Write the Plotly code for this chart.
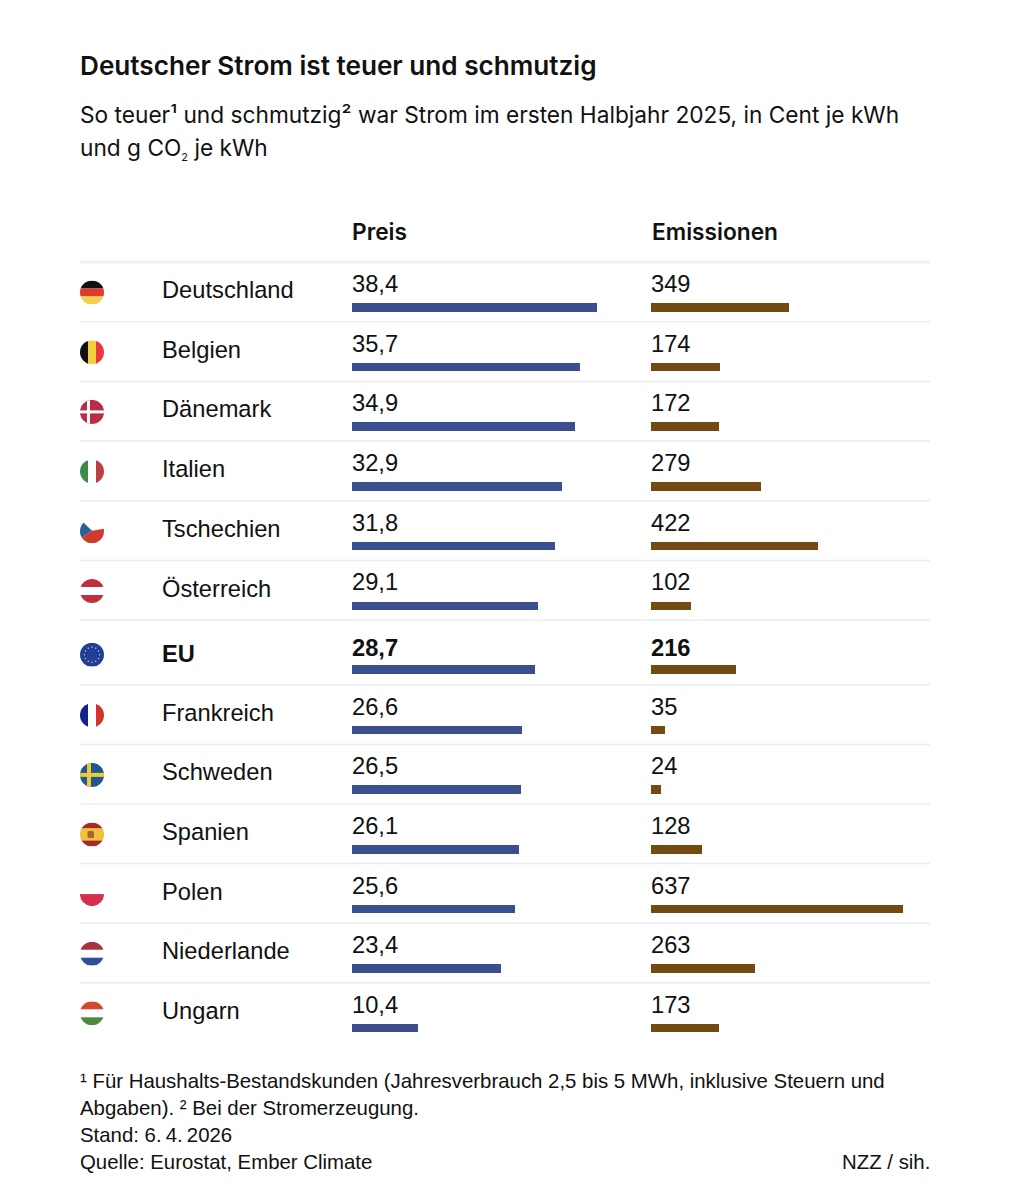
# -*- coding: utf-8 -*-
import base64
import plotly.graph_objects as go

countries = ['Deutschland', 'Belgien', 'Dänemark', 'Italien', 'Tschechien', 'Österreich', 'EU',
             'Frankreich', 'Schweden', 'Spanien', 'Polen', 'Niederlande', 'Ungarn']
preis = [38.4, 35.7, 34.9, 32.9, 31.8, 29.1, 28.7, 26.6, 26.5, 26.1, 25.6, 23.4, 10.4]
emissionen = [349, 174, 172, 279, 422, 102, 216, 35, 24, 128, 637, 263, 173]

title = 'Deutscher Strom ist teuer und schmutzig'
subtitle = ['So teuer¹ und schmutzig² war Strom im ersten Halbjahr 2025, in Cent je kWh',
            'und g CO<sub><span style="font-size:11px">2</span></sub> je kWh']
footer = ['¹ Für Haushalts-Bestandskunden (Jahresverbrauch 2,5 bis 5 MWh, inklusive Steuern und',
          'Abgaben). ² Bei der Stromerzeugung.',
          'Stand: 6.\u20094.\u20092026',
          'Quelle: Eurostat, Ember Climate']
credit = 'NZZ / sih.'

W, H = 1010, 1200
BLUE = '#3b4f8e'
BROWN = '#734a12'
RULE = '#ececec'
INK = '#111111'
SANS = 'Liberation Sans'
HEAD = 'Inter'


def bands(*rows):
    # horizontal stripes, y and height in a 48 box
    return ''.join('<rect x="0" y="%s" width="48" height="%s" fill="%s"/>' % r for r in rows)


def vbands(*cols):
    return ''.join('<rect x="%s" y="0" width="%s" height="48" fill="%s"/>' % c for c in cols)


eu_stars = ''.join('<circle cx="%.1f" cy="%.1f" r="1.4" fill="#e8d24a"/>' % (x, y) for x, y in [
    (24, 9), (31.5, 11), (37, 16.5), (39, 24), (37, 31.5), (31.5, 37),
    (24, 39), (16.5, 37), (11, 31.5), (9, 24), (11, 16.5), (16.5, 11)])

flags = {
    'Deutschland': bands((0, 16, '#111111'), (16, 16, '#dd3b2c'), (32, 16, '#f6cf4c')),
    'Belgien': vbands((0, 16, '#111111'), (16, 16, '#f2d03f'), (32, 16, '#e63a3f')),
    'Dänemark': bands((0, 48, '#b92e46')) + '<rect x="14" width="6" height="48" fill="#fff"/><rect y="21" width="48" height="6" fill="#fff"/>',
    'Italien': vbands((0, 16, '#3d8b4a'), (32, 16, '#bd3f44')),
    'Tschechien': '<path d="M24 23 L48 19 L48 48 L0 48 L0 39 Z" fill="#cf3a2c"/><path d="M0 0 L24 23 L0 39 Z" fill="#2e5f99"/>',
    'Österreich': bands((0, 16, '#c0303f'), (32, 16, '#c0303f')),
    'EU': bands((0, 48, '#1f3f9a')) + eu_stars,
    'Frankreich': vbands((0, 16, '#14238a'), (32, 16, '#d3342c')),
    'Schweden': bands((0, 48, '#22568f')) + '<rect x="14" width="8" height="48" fill="#f0c93a"/><rect y="20" width="48" height="8" fill="#f0c93a"/>',
    'Spanien': bands((0, 12, '#aa2a22'), (12, 24, '#f0c23a'), (36, 12, '#aa2a22')) + '<rect x="15" y="17" width="13" height="14" rx="3" fill="#a5652f"/>',
    'Polen': bands((24, 24, '#d5304a')),
    'Niederlande': bands((0, 16, '#a8323f'), (32, 16, '#2f4f96')),
    'Ungarn': bands((0, 16, '#cf4a31'), (32, 16, '#4d8a3c')),
}


def flag_uri(body):
    svg = ('<svg xmlns="http://www.w3.org/2000/svg" viewBox="0 0 48 48" width="96" height="96">'
           '<defs><clipPath id="c"><circle cx="24" cy="24" r="24"/></clipPath></defs>'
           '<g clip-path="url(#c)">' + body + '</g></svg>')
    return 'data:image/svg+xml;base64,' + base64.b64encode(svg.encode('utf8')).decode('ascii')


def de(v):
    return str(v).replace('.', ',')


# page layout, the y axis runs in page pixels
row_tops = []
top = 262.0
seen_eu = False
for name in countries:
    row_tops.append(top)
    if name == 'EU':
        top += 64.6
        seen_eu = True
    else:
        top += 59.6 if seen_eu else 59.7
extra = [4 if c == 'EU' else 0 for c in countries]
bar_y = [t + 45.3 + e for t, e in zip(row_tops, extra)]

fig = go.Figure()
fig.add_trace(go.Bar(x=preis, y=bar_y, orientation='h', width=8.6, marker=dict(color=BLUE, line_width=0),
                     xaxis='x', yaxis='y', showlegend=False, hoverinfo='x'))
fig.add_trace(go.Bar(x=emissionen, y=bar_y, orientation='h', width=8.6, marker=dict(color=BROWN, line_width=0),
                     xaxis='x2', yaxis='y', showlegend=False, hoverinfo='x'))

notes = []


def note(px, py, text, size, family=SANS, weight=None, anchor='left', color=INK):
    notes.append(dict(x=px / W, y=py, xref='paper', yref='y', text=text, showarrow=False,
                      xanchor=anchor, yanchor='middle', align=anchor, borderpad=0,
                      xshift=-1 if anchor == 'left' else 1,
                      font=dict(family=family, size=size, color=color, weight=weight)))


note(80, 65, title, 26.15, HEAD, 600)
note(80, 114, subtitle[0], 22.7, HEAD, 400)
note(80, 149, subtitle[1], 22.7, HEAD, 400)
note(352, 231, 'Preis', 22.7, HEAD, 600)
note(652, 231, 'Emissionen', 22.7, HEAD, 600)

images = []
shapes = [dict(type='line', xref='paper', yref='y', x0=80 / W, x1=930 / W, y0=262, y1=262,
               line=dict(color='#f0f0f0', width=3))]
for i, name in enumerate(countries):
    t, e = row_tops[i], extra[i]
    bold = 700 if name == 'EU' else None
    note(162, t + 28 + e + (2 if e else 0), name, 23.7, SANS, bold)
    note(352, t + 21.9 + e + (2 if e else 0), de(preis[i]), 23.7, SANS, bold)
    note(651, t + 21.9 + e + (2 if e else 0), de(emissionen[i]), 23.7, SANS, bold)
    images.append(dict(source=flag_uri(flags[name]), xref='paper', yref='y', x=80 / W, y=t + 30.5 + e - 12,
                       sizex=24 / W, sizey=24, xanchor='left', yanchor='top', sizing='stretch', layer='above'))
    if i > 0:
        shapes.append(dict(type='line', xref='paper', yref='y', x0=80 / W, x1=930 / W, y0=t, y1=t,
                           line=dict(color=RULE, width=1.5)))

for py, line in zip([1081, 1108, 1135, 1162], footer):
    note(80, py, line, 20.4)
note(930, 1162, credit, 20.4, anchor='right')

fig.update_layout(
    width=W, height=H, margin=dict(l=0, r=0, t=0, b=0),
    paper_bgcolor='white', plot_bgcolor='white', bargap=0,
    xaxis=dict(domain=[352 / W, 640 / W], range=[0, 45.14], visible=False, fixedrange=True),
    xaxis2=dict(domain=[651 / W, 930 / W], range=[0, 705], visible=False, fixedrange=True, anchor='y'),
    yaxis=dict(domain=[0, 1], range=[H, 0], visible=False, fixedrange=True),
    annotations=notes, shapes=shapes, images=images,
)

fig.write_html('out.html', config=dict(displayModeBar=False),
               post_script="document.body.style.margin='0';document.body.style.overflow='hidden';")
